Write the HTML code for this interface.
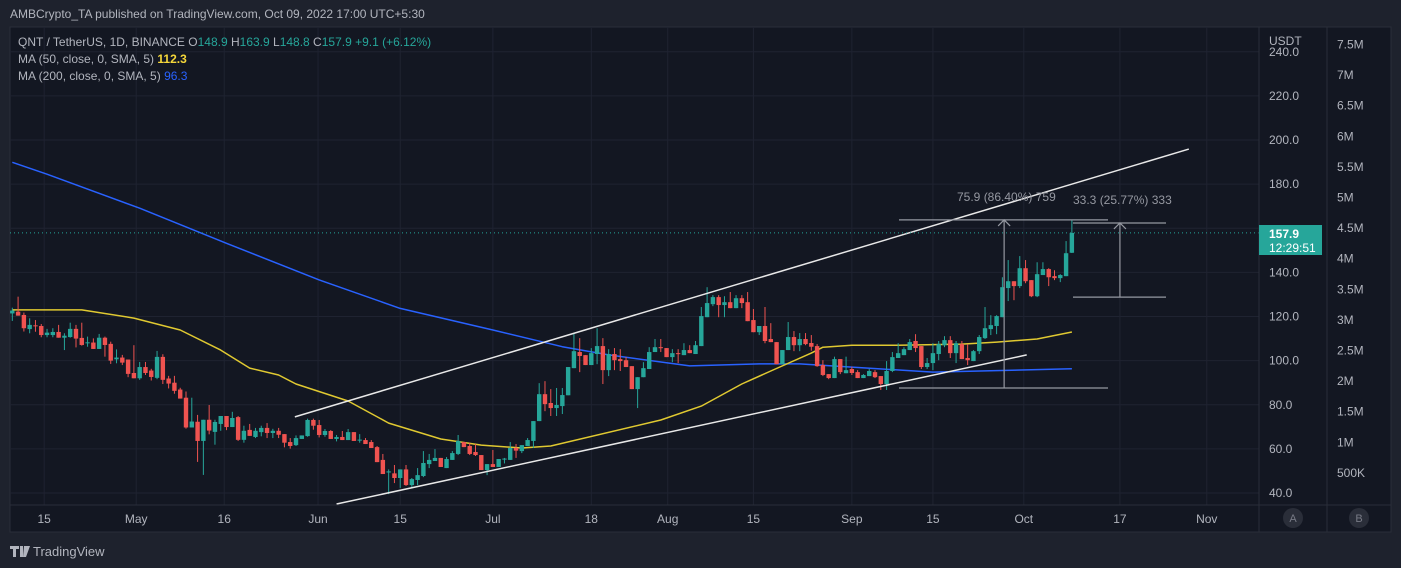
<!DOCTYPE html>
<html><head><meta charset="utf-8"><style>
html,body{margin:0;padding:0;background:#1e222d;width:1401px;height:568px;overflow:hidden;font-family:"Liberation Sans",sans-serif}
svg{position:absolute;left:0;top:0}
</style></head><body>
<svg id="c" width="1401" height="568" xmlns="http://www.w3.org/2000/svg">
<rect x="0" y="0" width="1401" height="568" fill="#1e222d"/>
<text x="10" y="18" fill="#b2b5be" font-size="12">AMBCrypto_TA published on TradingView.com, Oct 09, 2022 17:00 UTC+5:30</text>
<rect x="10" y="27" width="1381" height="505" fill="#131722" stroke="#2a2e39"/>
<g id="grid"></g>
<g id="marks"></g>
<line x1="1259" y1="27" x2="1259" y2="532" stroke="#2a2e39"/>
<line x1="1327" y1="27" x2="1327" y2="532" stroke="#2a2e39"/>
<line x1="10" y1="505" x2="1391" y2="505" stroke="#2a2e39"/>
<g id="axes" font-size="12" fill="#b2b5be"></g>
<text x="1269" y="45" fill="#b2b5be" font-size="12">USDT</text>
<rect x="1259" y="225" width="63" height="30" fill="#26a69a"/>
<text x="1269" y="238" fill="#fff" font-size="12" font-weight="bold">157.9</text>
<text x="1269" y="252" fill="#fff" font-size="12">12:29:51</text>
<circle cx="1293" cy="518" r="10" fill="#2a2e39"/>
<text x="1293" y="522" fill="#787b86" font-size="11" text-anchor="middle">A</text>
<circle cx="1359" cy="518" r="10" fill="#2a2e39"/>
<text x="1359" y="522" fill="#787b86" font-size="11" text-anchor="middle">B</text>
<text x="18" y="46" font-size="12" fill="#b2b5be">QNT / TetherUS, 1D, BINANCE  O<tspan fill="#26a69a">148.9</tspan>  H<tspan fill="#26a69a">163.9</tspan>  L<tspan fill="#26a69a">148.8</tspan>  C<tspan fill="#26a69a">157.9</tspan>  <tspan fill="#26a69a">+9.1 (+6.12%)</tspan></text>
<text x="18" y="63" font-size="12" fill="#b2b5be">MA (50, close, 0, SMA, 5)  <tspan fill="#f5d73a" font-weight="bold">112.3</tspan></text>
<text x="18" y="80" font-size="12" fill="#b2b5be">MA (200, close, 0, SMA, 5)  <tspan fill="#2962ff">96.3</tspan></text>
<g>
<path d="M10 546h9v3h-3v8h-3v-8h-3zM20 546h3v11h-3zM24 546h6l-4 11h-3z" fill="#b2b5be"/>
<text x="33" y="556" fill="#b2b5be" font-size="13">TradingView</text>
</g>
</svg>
<script>
const opens=[121.4,122.2,120.7,114.3,116,115.7,111.6,111.6,113,110.4,110.7,114.4,110.3,108,108.2,105.3,110.4,107.6,100.6,101.4,100.5,94.4,92,97.1,95.5,92.2,101.7,91.9,90,86.9,83.2,69.7,72.3,63.6,73.2,67.7,71.3,74.9,69.9,74.4,64.1,68.6,65.4,67.6,69.5,67.2,68.2,66.7,63.1,61.7,64.5,65.8,73.1,70.8,66.3,68.1,64.5,65.4,64,67.6,63.9,64,63.1,60.8,55,49.3,48.9,46.8,50.7,43.6,45.9,47.7,53.1,54.5,55.9,51.3,55,57.7,63.1,61.3,58.6,57.2,50.4,53.1,51.8,55.2,55,60.4,59,61.3,63.6,72.6,84.8,80.8,78.5,79.4,84.3,96.6,103.9,102.5,98,103,106.6,95.7,103,100.7,100.2,97.5,87.1,92.5,96.2,103.9,106.1,105.7,101.6,103.4,102.5,104.8,103,106.6,119.7,125.6,128.8,125.2,126.5,123.8,128.3,126.5,118.4,112.9,115.7,109.8,108.4,98.4,104.8,110.7,107,109.8,108,106.6,98,93.9,92.1,100.7,94.3,96.2,94.8,92.1,93,94.8,93,89.4,95.3,101.2,102.5,104.8,108.9,106.6,97.1,98.9,103,107,109.3,103.4,107.5,101.2,99.8,104.3,110.2,114.3,115.7,119.7,132.9,136,133.8,141.9,136.5,129.2,138.8,141.5,138.3,137.4,138.3,148.9];
const highs=[124,129,121.8,119.2,118.4,116.6,114.4,114.7,116.2,112.4,117.2,116.2,117.2,110.9,110.1,112.1,110.9,108.6,105.1,102.6,100.5,107,99.4,99.4,96.3,104.4,102.9,93.1,93.1,87.7,86,83.2,75.4,73.2,79.9,73.2,74.9,74.9,76.8,74.9,70.5,71.3,69.5,70.5,71.7,69.1,69.5,66.7,64.9,66.1,66.1,73.7,73.7,73.1,69,68.5,66.3,68.1,69,67.6,66.7,64.9,64,61.3,57.7,50.7,52.7,50.7,52.7,46.8,51.3,59,57.7,59.9,55.9,56.3,59,66.3,63.1,62.8,62.2,57.2,53.1,59.5,55.4,55.9,63.1,62.2,61.7,64.9,72.6,89.8,90.7,87.1,87.6,87.6,97.1,112.5,110.2,102.5,105.7,114.7,110.2,105.2,105.7,105.2,101.6,97.5,92.5,99.3,106.1,109.8,109.8,105.7,105.2,105.2,107.9,107,108.9,124.3,133.3,129.7,129.7,129.2,131.1,129.7,129.7,131.1,123.4,115.7,124.3,117,108.4,104.8,117.5,113.4,112.5,112.5,111.6,107.5,100.2,93.9,101.8,100.7,101.8,97.2,95.7,93.9,96.2,95.7,93,99.8,103.9,107.9,106.1,109.8,112,106.6,101.2,107.9,108.9,111.1,111.1,108.9,108.9,107.5,104.8,111.6,124.3,120.6,120.6,137.8,145.6,136,147.4,145.6,136.5,144.6,144.6,141.9,141,139.2,154.2,163.9];
const lows=[118,120.4,113.2,112.4,113.1,110.6,110.6,110.6,110.4,104.8,110.4,106,106.8,106.3,105.3,105.3,101.8,98.5,98.8,98,92.5,92,91.3,93.5,91,91.6,89.4,87.4,85,82.8,69.2,69.7,54.1,48.2,66.6,61.9,68.2,68.5,69.9,63.6,62.8,65.9,64.9,65.7,64.9,64.9,64.9,60.7,60.1,61.3,64.5,65.5,68.7,65.2,65.5,64.5,63.4,64,64,63.6,62.8,62.2,60.4,54,48.6,39.5,44.5,42.3,43.2,42.7,43.6,47.2,51.3,54.5,51.8,51.3,55,57.2,60.8,57.2,56.8,50.4,48.1,51.8,51.8,53.4,55,55.9,58.1,61.3,60.4,72.6,77.1,74.9,74.9,75.8,84.3,96.6,94.8,98,98,98.4,89.4,93,95.7,95.3,97.1,87.1,78.5,92.5,96.2,103.9,103.9,101.6,99.3,98.9,102.5,103.4,103,106.6,119.7,124.7,119.7,119.7,123.8,123.8,123.8,117.9,112.9,111.6,107.9,108.4,98.4,98.4,104.8,104.3,104.3,107,104.5,97.2,93,91.6,92.1,93.9,94.3,93.5,92.1,92.1,93,92.1,86.7,86.7,94.8,101.2,102.5,104.8,103.9,96.2,96.2,95.7,100.2,106.1,101.2,98.9,100.7,98,99.8,103,109.8,111.6,112,119.7,127,127.4,132.9,135.1,128.8,128.8,138.8,133.8,136.5,135.6,138.3,148.8];
const closes=[122.7,120.4,114.7,116.2,115.7,111.6,112.7,113,110.4,111.3,114.4,110,107.1,108.3,105.3,110.4,107.1,100,101.4,99.1,94,92,97.1,94.4,92.6,101.7,91.3,89.6,86.3,82.8,69.7,72.4,63.6,73.2,68.3,72.2,74.9,69.9,74,64.1,68.2,65.9,68.2,69.5,67.2,68.2,66.4,62.8,61.3,64.9,66.1,73.1,70.5,66.3,68.1,64.5,65.4,64,67.6,63.6,64.2,62.2,60.4,54,48.6,49.8,46.8,50.7,43.6,46.3,48.1,53.6,55,55.9,51.8,55.4,58.1,63.6,60.8,57.7,57.2,50.4,53.1,51.8,55.4,55.6,60.4,59.2,61.7,64,72.6,84.8,80.3,78.5,79.9,84.4,97.1,104.3,102.1,98,103.4,106.6,95.7,103,100.2,99.8,97.1,87.1,92.5,96.6,103.9,106.1,105.7,101.6,103.4,103,104.8,103.4,107,120.2,126.1,128.8,125.2,126.5,123.8,128.3,126.1,117.9,112.9,115.7,108.9,108.4,98.4,104.8,110.7,107,109.8,107.5,106.3,97.5,93.5,92.1,100.7,94.8,95.7,94.4,92.1,93.5,95.3,92.5,89.4,95.3,101.6,103.4,105.2,108.4,105.7,97.1,98.9,103.4,107.5,109.3,103.4,107.9,100.7,100.2,104.3,110.7,114.7,116.1,120.2,133.3,136,133.8,141.9,136,129.2,139.2,141.5,137.8,137.4,138.8,148.7,157.9];
const ma50Idx=[0,12,21,29,36,41,46,49,58,65,74,81,88,93,112,119,126,131,138,140,145,153,164,170,177,183];
const ma50Val=[123,123,119.3,113.9,104.8,96.6,93.5,89.4,81.7,71.7,64.5,61.7,60.4,61.3,73.1,79.4,89.4,95.3,103.4,106.1,107,107,107.5,108.4,109.8,113];
const ma200Idx=[0,6,22,37,53,67,83,95,103,117,129,136,159,183];
const ma200Val=[189.9,184.5,169.1,153.2,136.6,123.7,113.9,106.3,102.6,97.6,98.5,98.5,94.8,96.3];
const priceTicks=[240,220,200,180,160,140,120,100,80,60,40];
const volTicks=["7.5M","7M","6.5M","6M","5.5M","5M","4.5M","4M","3.5M","3M","2.5M","2M","1.5M","1M","500K"];
const timeLabels=["15","May","16","Jun","15","Jul","18","Aug","15","Sep","15","Oct","17","Nov"];
const timeDay=[5.5,21.4,36.6,52.8,67,83,100,113.2,128,145,159,174.7,191.3,206.3];
const upperTrend=[[48.8,74.5],[203.2,195.9]];
const lowerTrend=[[56,35],[175.2,102.6]];
const meas1=[171.3,163.8,87.6];
const meas2=[191.3,162.4,128.8];

const NS="http://www.w3.org/2000/svg";
const X0=12.3,DX=5.79;
function xS(i){return X0+i*DX;}
function yS(p){return 493-(p-40)*2.206;}
function mk(tag,attrs,parent){const e=document.createElementNS(NS,tag);for(const k in attrs)e.setAttribute(k,attrs[k]);parent.appendChild(e);return e;}
const grid=document.getElementById('grid'),marks=document.getElementById('marks'),axes=document.getElementById('axes');
priceTicks.forEach((p,k)=>{
 const l=mk('line',{x1:10,x2:1259,y1:yS(p),y2:yS(p),stroke:'#1f2331'},grid);
 
 
 if(p===160)return;
 const t=mk('text',{x:1269,y:yS(p)+4},axes);t.textContent=p.toFixed(1);
 
 
});
volTicks.forEach((v,k)=>{
 const t=mk('text',{x:1337,y:48.5+k*30.6},axes);t.textContent=v;
 
 
});
timeLabels.forEach((s,k)=>{
 const x=xS(timeDay[k]);
 const l=mk('line',{x1:x,x2:x,y1:27,y2:505,stroke:'#1f2331'},grid);
 
 
 const t=mk('text',{x:x,y:523,'text-anchor':'middle'},axes);t.textContent=s;
 
 
});
function maLine(idx,val,color,name){
 let d='';idx.forEach((i,k)=>{d+=(k?'L':'M')+xS(i).toFixed(1)+' '+yS(val[k]).toFixed(1);});
 const p=mk('path',{d:d,fill:'none',stroke:color,'stroke-width':1.5,'stroke-linejoin':'round'},marks);
 
 
}
maLine(ma200Idx,ma200Val,'#2962ff','ma200-line');
maLine(ma50Idx,ma50Val,'#e0c931','ma50-line');
opens.forEach((o,i)=>{
 const c=closes[i],up=c>=o,col=up?'#26a69a':'#ef5350',x=xS(i);
 const g=mk('g',{},marks);
 
 
 mk('line',{x1:x,x2:x,y1:yS(highs[i]),y2:yS(lows[i]),stroke:col,'stroke-width':1},g);
 const top=yS(Math.max(o,c)),h=Math.max(1,Math.abs(yS(o)-yS(c)));
 mk('rect',{x:x-2.2,y:top,width:4.4,height:h,fill:col},g);
});
function trend(pts,name){
 const l=mk('line',{x1:xS(pts[0][0]),y1:yS(pts[0][1]),x2:xS(pts[1][0]),y2:yS(pts[1][1]),stroke:'#e8e8e8','stroke-width':1.5},marks);
 
 
}
trend(upperTrend,'upper-trendline');
trend(lowerTrend,'lower-trendline');
const pl=mk('line',{x1:10,x2:1259,y1:yS(157.9),y2:yS(157.9),stroke:'#26a69a','stroke-dasharray':'1 3'},marks);


function measure(m,x1,x2,label,tx,name){
 const g=mk('g',{stroke:'#9598a1','stroke-width':1.2,fill:'none'},marks);
 
 
 const xm=xS(m[0]),yt=yS(m[1]),yb=yS(m[2]);
 mk('line',{x1:x1,x2:x2,y1:yt,y2:yt},g);
 mk('line',{x1:x1,x2:x2,y1:yb,y2:yb},g);
 mk('line',{x1:xm,x2:xm,y1:yt,y2:yb},g);
 mk('path',{d:`M${xm-6} ${yt+6}L${xm} ${yt}L${xm+6} ${yt+6}`},g);
 const t=mk('text',{x:tx,y:yt-19,fill:'#9598a1',stroke:'none','font-size':12},g);t.textContent=label;
}
measure(meas1,899,1108,'75.9 (86.40%) 759',957,'range-measure-1');
measure(meas2,1073,1166,'33.3 (25.77%) 333',1073,'range-measure-2');
</script>
</body></html>
